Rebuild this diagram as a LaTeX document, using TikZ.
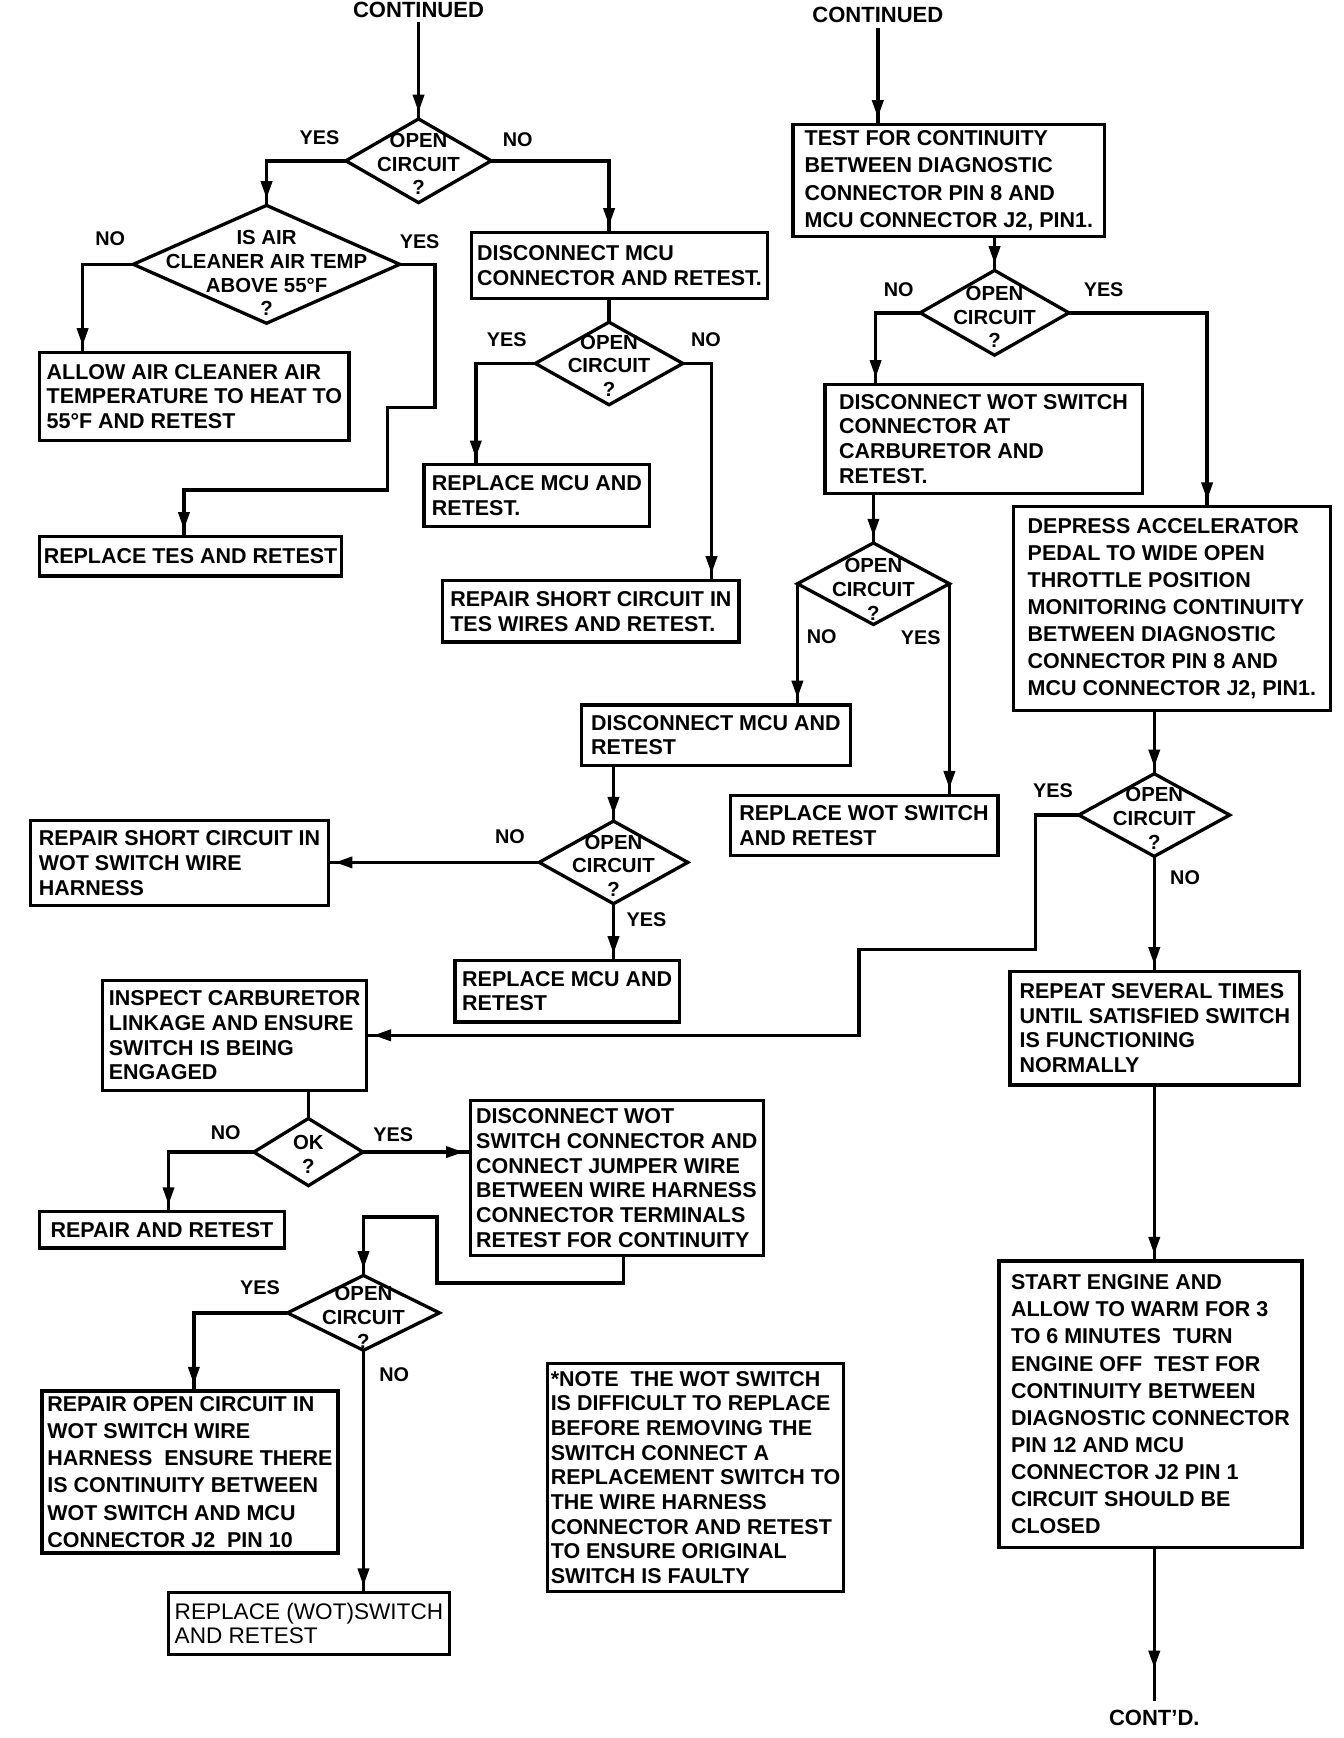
\documentclass[tikz,border=0pt]{standalone}
\usepackage{fontspec}
\setmainfont{Liberation Sans}
\usetikzlibrary{shapes.geometric,arrows.meta,decorations.markings}
\tikzset{%
  flow/.style = { line width=3.2pt },
  arr/.style = { flow, postaction={decorate},
    decoration={markings, mark=at position -#1 with {\arrow{Triangle[length=16pt,width=10pt]}}} },
  arr/.default = 6pt,
  box/.style 2 args = { draw, line width=3pt, outer sep=0pt, inner sep=0pt, minimum width=#1pt, minimum height=#2pt, align=left, font=\bfseries\fontsize{19.5}{22.4}\selectfont },
  wide/.style = { font=\bfseries\fontsize{19.5}{24.6}\selectfont },
  dia/.style 2 args = { diamond, draw, line width=3pt, outer sep=0pt, inner sep=0pt, minimum width=#1pt, minimum height=#2pt },
  dtxt/.style = { align=center, inner sep=0pt, font=\bfseries\fontsize{18.5}{21.5}\selectfont },
  yn/.style = { inner sep=0pt, font=\bfseries\fontsize{18}{20}\selectfont },
  cont/.style = { inner sep=0pt, font=\bfseries\fontsize{20}{22}\selectfont }
}

\begin{document}
\begin{tikzpicture}[x=1pt, y=-1pt]

  \useasboundingbox (0,0) rectangle (1220,1578);

  % Headings
  \node[cont] (contL) at (380,9) {CONTINUED};
  \node[cont] (contR) at (797,14) {CONTINUED};
  \node[cont] (contd) at (1048,1560) {CONT'D.};

  % LEFT BRANCH
  \node[dia={132}{76}] (d1) at (380,146) {};
  \node[dtxt] (t1) at ([yshift=-3pt]d1) {OPEN\\CIRCUIT\\?};

  \node[dia={242}{107}] (d2) at (242,240) {};
  \node[dtxt] (t2) at ([yshift=-8pt]d2) {IS AIR\\CLEANER AIR TEMP\\ABOVE 55°F\\?};

  \node[box={281}{80}] (allow) at (176.5,360) {ALLOW AIR CLEANER AIR\\TEMPERATURE TO HEAT TO\\55°F AND RETEST};
  \node[box={274}{36}] (tes) at (173,505) {REPLACE TES AND RETEST};

  \node[box={269}{60}] (dmcu) at (562.5,241) {DISCONNECT MCU\\CONNECTOR AND RETEST.};
  \node[dia={134}{75}] (d3) at (553,330) {};
  \node[dtxt] (t3) at ([yshift=-2pt]d3) {OPEN\\CIRCUIT\\?};
  \node[box={205}{56}] (rmcu1) at (487.5,450) {REPLACE MCU AND\\RETEST.};
  \node[box={269}{56}] (rsc) at (536.5,555) {REPAIR SHORT CIRCUIT IN\\TES WIRES AND RETEST.};

  % RIGHT BRANCH
  \node[box={283}{102}, wide] (test) at (861.5,164) {TEST FOR CONTINUITY\\BETWEEN DIAGNOSTIC\\CONNECTOR PIN 8 AND\\MCU CONNECTOR J2, PIN1.};
  \node[dia={135}{77}] (d4) at (903,284) {};
  \node[dtxt] (t4) at ([yshift=-4pt]d4) {OPEN\\CIRCUIT\\?};

  \node[box={288}{99}] (dwot) at (893,398.5) {DISCONNECT WOT SWITCH\\CONNECTOR AT\\CARBURETOR AND\\RETEST.};
  \node[box={288}{185}, wide] (depress) at (1064,552.5) {DEPRESS ACCELERATOR\\PEDAL TO WIDE OPEN\\THROTTLE POSITION\\MONITORING CONTINUITY\\BETWEEN DIAGNOSTIC\\CONNECTOR PIN 8 AND\\MCU CONNECTOR J2, PIN1.};

  \node[dia={138}{74}] (d5) at (793,530) {};
  \node[dtxt] (t5) at ([yshift=-5pt]d5) {OPEN\\CIRCUIT\\?};
  \node[box={244}{55}] (dmcu2) at (650,667.5) {DISCONNECT MCU AND\\RETEST};
  \node[box={243}{55}] (rwot) at (784.5,749.5) {REPLACE WOT SWITCH\\AND RETEST};

  \node[dia={135}{75}] (d6) at (557,783) {};
  \node[dtxt] (t6) at ([yshift=-3pt]d6) {OPEN\\CIRCUIT\\?};
  \node[box={270}{77}] (rsc2) at (163,783.5) {REPAIR SHORT CIRCUIT IN\\WOT SWITCH WIRE\\HARNESS};
  \node[box={204}{56}] (rmcu2) at (515,900) {REPLACE MCU AND\\RETEST};

  \node[dia={137}{75}] (d7) at (1048,740) {};
  \node[dtxt] (t7) at ([yshift=-3pt]d7) {OPEN\\CIRCUIT\\?};
  \node[box={263}{103}] (repeat) at (1048.5,933.5) {REPEAT SEVERAL TIMES\\UNTIL SATISFIED SWITCH\\IS FUNCTIONING\\NORMALLY};
  \node[box={275}{260}, wide] (start) at (1044.5,1275) {START ENGINE AND\\ALLOW TO WARM FOR 3\\TO 6 MINUTES~ TURN\\ENGINE OFF~ TEST FOR\\CONTINUITY BETWEEN\\DIAGNOSTIC CONNECTOR\\PIN 12 AND MCU\\CONNECTOR J2 PIN 1\\CIRCUIT SHOULD BE\\CLOSED};

  % LOWER LEFT
  \node[box={240}{100}] (inspect) at (213,940) {INSPECT CARBURETOR\\LINKAGE AND ENSURE\\SWITCH IS BEING\\ENGAGED};
  \node[dia={99}{61}] (d8) at (280,1046) {};
  \node[dtxt] (t8) at ([yshift=-2pt]d8) {OK\\?};
  \node[box={222}{33}] (repair) at (147,1116.5) {REPAIR AND RETEST};
  \node[box={266}{141}] (jumper) at (560,1069.5) {DISCONNECT WOT\\SWITCH CONNECTOR AND\\CONNECT JUMPER WIRE\\BETWEEN WIRE HARNESS\\CONNECTOR TERMINALS\\RETEST FOR CONTINUITY};

  \node[dia={138}{68}] (d9) at (330,1192) {};
  \node[dtxt] (t9) at ([yshift=-4pt]d9) {OPEN\\CIRCUIT\\?};
  \node[box={269}{147}, wide] (ropen) at (172.5,1336.5) {REPAIR OPEN CIRCUIT IN\\WOT SWITCH WIRE\\HARNESS~ ENSURE THERE\\IS CONTINUITY BETWEEN\\WOT SWITCH AND MCU\\CONNECTOR J2~ PIN 10};
  \node[box={255}{56}, font=\fontsize{20.5}{22.4}\selectfont] (rwotsw) at (280.5,1474) {REPLACE (WOT)SWITCH\\AND RETEST};
  \node[box={269}{207}] (note) at (631.5,1341.5) {*NOTE~ THE WOT SWITCH\\IS DIFFICULT TO REPLACE\\BEFORE REMOVING THE\\SWITCH CONNECT A\\REPLACEMENT SWITCH TO\\THE WIRE HARNESS\\CONNECTOR AND RETEST\\TO ENSURE ORIGINAL\\SWITCH IS FAULTY};

  % YES / NO labels
  \foreach \x/\y/\t [count=\i] in {290/125/YES, 470/127/NO, 100/217/NO, 381/219/YES,
      460/308/YES, 641/308/NO, 816/263/NO, 1002/263/YES, 746/578/NO, 836/579/YES,
      463/760/NO, 587/835/YES, 956/718/YES, 1076/797/NO, 205/1028/NO, 357/1030/YES,
      236/1169/YES, 358/1248/NO} {
    \node[yn] (yn\i) at (\x,\y) {\t};
  }

  % Connectors, left
  \draw[arr] ([yshift=-4pt]contL.south) -- (d1.north);
  \draw[arr] (d1.west) -| (d2.north);
  \draw[arr] (d2.west) -| ([xshift=39pt]allow.north west);
  \draw[arr] (d2.east) -| (395,370) -| (352,445) -| ([xshift=131pt]tes.north west);
  \draw[arr] (d1.east) -| ([xshift=125pt]dmcu.north west);
  \draw[flow] ([xshift=125pt]dmcu.south west) -- (d3.north);
  \draw[arr] (d3.west) -| ([xshift=47pt]rmcu1.north west);
  \draw[arr] (d3.east) -| ([xshift=244pt]rsc.north west);

  % Connectors, right
  \draw[arr] ([yshift=-4pt]contR.south) -- ([xshift=77pt]test.north west);
  \draw[arr] ([xshift=183pt]test.south west) -- (d4.north);
  \draw[arr] (d4.west) -| ([xshift=46pt]dwot.north west);
  \draw[arr] (d4.east) -| ([xshift=176pt]depress.north west);
  \draw[arr] (d5.north |- dwot.south) -- (d5.north);
  \draw[arr] (d5.west) -- (d5.west |- dmcu2.north);
  \draw[arr] (d5.east) -- (d5.east |- rwot.north);
  \draw[arr] (d6.north |- dmcu2.south) -- (d6.north);
  \draw[arr] (d6.west) -- (d6.west -| rsc2.east);
  \draw[arr] (d6.south) -- (d6.south |- rmcu2.north);
  \draw[arr] (d7.north |- depress.south) -- (d7.north);
  \draw[arr] (d7.west) -| (940,862) -| (780,940) -- (inspect.east);
  \draw[arr] (d7.south) -- (d7.south |- repeat.north);
  \draw[arr] (d7.south |- repeat.south) -- (d7.south |- start.north);
  \draw[arr=30pt] (d7.south |- start.south) -- ([yshift=8pt]contd.north);

  % Connectors, lower left
  \draw[flow] (d8.north |- inspect.south) -- (d8.north);
  \draw[arr] (d8.west) -| ([xshift=117pt]repair.north west);
  \draw[arr] (d8.east) -- (d8.east -| jumper.west);
  \draw[arr] ([xshift=139pt]jumper.south west) |- (397,1165) |- (330,1105) -- (d9.north);
  \draw[arr] (d9.west) -| ([xshift=138pt]ropen.north west);
  \draw[arr] (d9.south) -- (d9.south |- rwotsw.north);

\end{tikzpicture}
\end{document}
